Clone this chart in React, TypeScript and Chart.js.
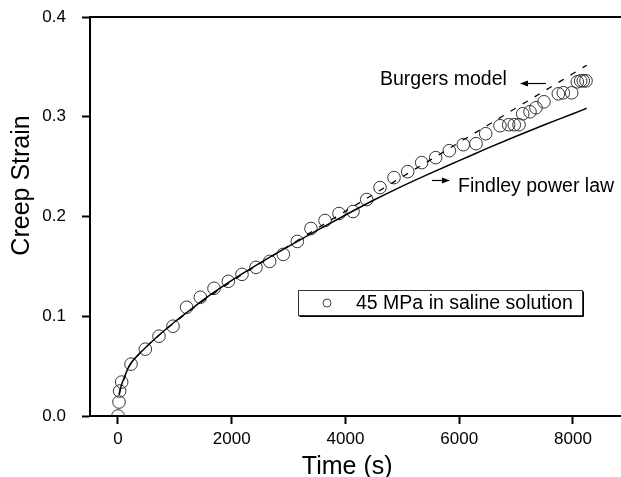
import React, { useEffect, useRef } from 'react';
import { Chart, registerables } from 'chart.js';

Chart.register(...registerables);

// ---- data ----
const timeS = [0, 18, 29, 65, 229, 481, 721, 967, 1207, 1448, 1688, 1940, 2180, 2426, 2667, 2907, 3153, 3393, 3640, 3886, 4132, 4373, 4607, 4853, 5094, 5340, 5586, 5825, 6071, 6295, 6465, 6716, 6869, 6968, 7051, 7116, 7244, 7349, 7490, 7742, 7830, 7977, 8076, 8135, 8181, 8229];
const creepStrain = [0.0, 0.014, 0.025, 0.034, 0.052, 0.067, 0.080, 0.090, 0.109, 0.119, 0.128, 0.135, 0.142, 0.149, 0.155, 0.162, 0.175, 0.188, 0.196, 0.203, 0.205, 0.217, 0.229, 0.239, 0.245, 0.254, 0.259, 0.266, 0.272, 0.273, 0.283, 0.291, 0.292, 0.292, 0.292, 0.303, 0.305, 0.309, 0.315, 0.323, 0.324, 0.324, 0.335, 0.336, 0.336, 0.336];

const findleyTime = [20, 50, 100, 200, 350, 500, 750, 1000, 1250, 1500, 1750, 2000, 2500, 3000, 3500, 4000, 4500, 5000, 5500, 6000, 6500, 7000, 7500, 8000, 8240];
const findleyStrain = [0.021, 0.029, 0.037, 0.0505, 0.061, 0.0695, 0.0825, 0.0945, 0.1055, 0.1165, 0.1265, 0.136, 0.1535, 0.17, 0.186, 0.2015, 0.2165, 0.2305, 0.2435, 0.256, 0.2685, 0.2805, 0.292, 0.303, 0.3085];

const burgersTime = [20, 50, 100, 200, 350, 500, 750, 1000, 1250, 1500, 1750, 2000, 2500, 3000, 3500, 4000, 4500, 5000, 5500, 6000, 6500, 7000, 7500, 8000, 8240];
const burgersStrain = [0.022, 0.029, 0.036, 0.05, 0.061, 0.0695, 0.0825, 0.094, 0.105, 0.1155, 0.1255, 0.135, 0.153, 0.1705, 0.188, 0.2053, 0.2225, 0.2398, 0.257, 0.2743, 0.2915, 0.3088, 0.326, 0.3433, 0.3516];

const xTickValues = [0, 2000, 4000, 6000, 8000];
const yTickValues = [0, 0.1, 0.2, 0.3, 0.4];

const seriesLabel = '45 MPa in saline solution';
const burgersLabel = 'Burgers model';
const findleyLabel = 'Findley power law';
const xTitle = 'Time (s)';
const yTitle = 'Creep Strain';

const FONT = '"Liberation Sans", Arial, Helvetica, sans-serif';

function arrow(ctx: CanvasRenderingContext2D, x1: number, x2: number, y: number) {
  const dir = Math.sign(x2 - x1);
  ctx.beginPath();
  ctx.moveTo(x1, y);
  ctx.lineTo(x2 - dir * 6, y);
  ctx.stroke();
  ctx.beginPath();
  ctx.moveTo(x2, y);
  ctx.lineTo(x2 - dir * 8, y - 3);
  ctx.lineTo(x2 - dir * 8, y + 3);
  ctx.closePath();
  ctx.fill();
}

const overlayPlugin = {
  id: 'overlay',
  afterDraw(chart: any) {
    const { ctx, chartArea, scales } = chart;
    const x = scales.x;
    const y = scales.y;
    ctx.save();
    ctx.strokeStyle = '#000';
    ctx.fillStyle = '#000';
    // top frame line
    ctx.lineWidth = 2;
    ctx.beginPath();
    ctx.moveTo(chartArea.left - 1, chartArea.top);
    ctx.lineTo(chartArea.right, chartArea.top);
    ctx.stroke();

    // annotations
    ctx.font = `19.5px ${FONT}`;
    ctx.textBaseline = 'alphabetic';
    ctx.textAlign = 'left';
    ctx.fillText(burgersLabel, x.getPixelForValue(4607), y.getPixelForValue(0.3318));
    ctx.fillText(findleyLabel, x.getPixelForValue(5978), y.getPixelForValue(0.2246));
    ctx.lineWidth = 1.2;
    arrow(ctx, x.getPixelForValue(7525), x.getPixelForValue(7068), Math.round(y.getPixelForValue(0.3343)) + 0.5);
    arrow(ctx, x.getPixelForValue(5521), x.getPixelForValue(5837), Math.round(y.getPixelForValue(0.2366)) + 0.5);

    // legend box
    const lx1 = Math.round(x.getPixelForValue(3165)) + 0.5;
    const lx2 = Math.round(x.getPixelForValue(8158)) + 0.5;
    const ly1 = Math.round(y.getPixelForValue(0.1263)) + 0.5;
    const ly2 = Math.round(y.getPixelForValue(0.1013)) + 0.5;
    ctx.lineWidth = 1;
    ctx.strokeStyle = '#333';
    ctx.strokeRect(lx1, ly1, lx2 - lx1, ly2 - ly1);
    ctx.strokeStyle = '#000';
    ctx.beginPath();
    ctx.moveTo(lx1 + 1, ly2 + 1);
    ctx.lineTo(lx2 + 1, ly2 + 1);
    ctx.lineTo(lx2 + 1, ly1 + 1);
    ctx.stroke();
    const my = (ly1 + ly2) / 2;
    ctx.strokeStyle = '#444';
    ctx.beginPath();
    ctx.arc(x.getPixelForValue(3675), my, 4, 0, Math.PI * 2);
    ctx.stroke();
    ctx.textBaseline = 'middle';
    ctx.fillText(seriesLabel, x.getPixelForValue(4185), my + 1);

    // axis titles
    ctx.font = `25px ${FONT}`;
    ctx.textAlign = 'center';
    ctx.textBaseline = 'alphabetic';
    ctx.fillText(xTitle, x.getPixelForValue(4030), 474);
    ctx.save();
    ctx.translate(29, y.getPixelForValue(0.2311));
    ctx.rotate(-Math.PI / 2);
    ctx.fillText(yTitle, 0, 0);
    ctx.restore();
    ctx.restore();
  },
};

const zeroPadding = (scale: any) => {
  scale.paddingLeft = 0;
  scale.paddingRight = 0;
  scale.paddingTop = 0;
  scale.paddingBottom = 0;
};

export default function App() {
  const canvasRef = useRef<HTMLCanvasElement | null>(null);

  useEffect(() => {
    if (!canvasRef.current) return;
    const chart = new Chart(canvasRef.current, {
      type: 'scatter',
      data: {
        datasets: [
          {
            label: findleyLabel,
            data: findleyTime.map((t, i) => ({ x: t, y: findleyStrain[i] })),
            showLine: true,
            borderColor: '#000',
            borderWidth: 1.5,
            pointRadius: 0,
            cubicInterpolationMode: 'monotone',
          },
          {
            label: burgersLabel,
            data: burgersTime.map((t, i) => ({ x: t, y: burgersStrain[i] })),
            showLine: true,
            borderColor: '#000',
            borderWidth: 1.3,
            borderDash: [6, 8],
            pointRadius: 0,
            cubicInterpolationMode: 'monotone',
          },
          {
            label: seriesLabel,
            data: timeS.map((t, i) => ({ x: t, y: creepStrain[i] })),
            showLine: false,
            pointStyle: 'circle',
            pointRadius: 6.3,
            borderWidth: 1,
            borderColor: '#333',
            backgroundColor: 'rgba(0,0,0,0)',
          },
        ],
      },
      options: {
        animation: false,
        responsive: false,
        devicePixelRatio: 1,
        layout: { autoPadding: false, padding: { top: 17, right: 0, left: 0, bottom: 0 } },
        plugins: {
          legend: { display: false },
          tooltip: { enabled: false },
        },
        scales: {
          x: {
            type: 'linear',
            min: -492,
            max: 8844,
            afterBuildTicks: (scale: any) => {
              scale.ticks = xTickValues.map((v) => ({ value: v }));
            },
            afterFit: (scale: any) => {
              scale.height = 61;
              zeroPadding(scale);
            },
            ticks: {
              color: '#000',
              font: { family: FONT, size: 17 },
              padding: 5,
              maxRotation: 0,
              autoSkip: false,
              callback: (v: any) => String(v),
            },
            grid: {
              display: true,
              drawOnChartArea: false,
              drawTicks: true,
              tickLength: 8,
              tickWidth: 2,
              tickColor: '#000',
            },
            border: { display: true, color: '#000', width: 2 },
          },
          y: {
            type: 'linear',
            min: 0,
            max: 0.4,
            afterBuildTicks: (scale: any) => {
              scale.ticks = yTickValues.map((v) => ({ value: v }));
            },
            afterFit: (scale: any) => {
              scale.width = 90;
              zeroPadding(scale);
            },
            ticks: {
              color: '#000',
              font: { family: FONT, size: 17 },
              padding: 16,
              autoSkip: false,
              callback: (v: any) => Number(v).toFixed(1),
            },
            grid: {
              display: true,
              drawOnChartArea: false,
              drawTicks: true,
              tickLength: 8,
              tickWidth: 2,
              tickColor: '#000',
            },
            border: { display: true, color: '#000', width: 2 },
          },
        },
      },
      plugins: [overlayPlugin],
    });
    return () => chart.destroy();
  }, []);

  return (
    <div style={{ position: 'absolute', left: 0, top: 0, width: 621, height: 477, background: '#fff' }}>
      <canvas ref={canvasRef} width={621} height={477} style={{ display: 'block', width: 621, height: 477 }} />
    </div>
  );
}
